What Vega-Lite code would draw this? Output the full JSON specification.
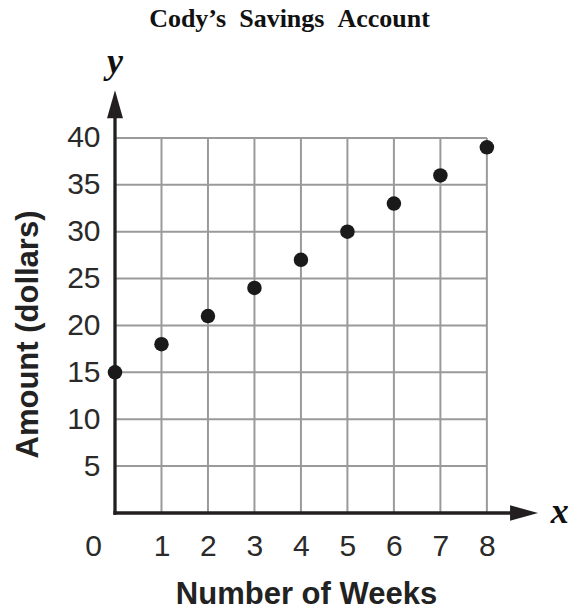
{
  "$schema": "https://vega.github.io/schema/vega-lite/v6.json",
  "width": 423,
  "height": 422,
  "autosize": {"type": "none"},
  "padding": {"left": 115, "top": 91, "right": 33, "bottom": 97},
  "background": "white",
  "config": {"view": {"stroke": null}},
  "title": {
    "text": "Cody’s\u2002Savings\u2002Account",
    "frame": "group",
    "anchor": "middle",
    "dx": -37,
    "offset": 0,
    "dy": 9,
    "baseline": "alphabetic",
    "font": "Liberation Serif",
    "fontSize": 26,
    "fontWeight": "bold",
    "color": "#111"
  },
  "datasets": {
    "hgrid": [
      {"x": 0, "y": 5, "xe": 8}, {"x": 0, "y": 10, "xe": 8}, {"x": 0, "y": 15, "xe": 8},
      {"x": 0, "y": 20, "xe": 8}, {"x": 0, "y": 25, "xe": 8}, {"x": 0, "y": 30, "xe": 8},
      {"x": 0, "y": 35, "xe": 8}, {"x": 0, "y": 40, "xe": 8}
    ],
    "vgrid": [
      {"x": 1, "y": 0, "ye": 40}, {"x": 2, "y": 0, "ye": 40}, {"x": 3, "y": 0, "ye": 40},
      {"x": 4, "y": 0, "ye": 40}, {"x": 5, "y": 0, "ye": 40}, {"x": 6, "y": 0, "ye": 40},
      {"x": 7, "y": 0, "ye": 40}, {"x": 8, "y": 0, "ye": 40}
    ],
    "savings": [
      {"x": 0, "y": 15}, {"x": 1, "y": 18}, {"x": 2, "y": 21}, {"x": 3, "y": 24},
      {"x": 4, "y": 27}, {"x": 5, "y": 30}, {"x": 6, "y": 33}, {"x": 7, "y": 36},
      {"x": 8, "y": 39}
    ]
  },
  "encoding": {
    "x": {
      "field": "x",
      "type": "quantitative",
      "scale": {"domain": [0, 9.1], "nice": false, "zero": false},
      "axis": {
        "values": [0, 1, 2, 3, 4, 5, 6, 7, 8],
        "domain": false,
        "ticks": false,
        "grid": false,
        "labelFont": "Liberation Sans",
        "labelFontSize": 30,
        "labelColor": "#2a2a2a",
        "labelPadding": 18,
        "labelFlush": false,
        "labelOverlap": false,
        "labelOffset": {"condition": {"test": "datum.value === 0", "value": -22}, "value": 0},
        "title": "Number of Weeks",
        "titleFont": "Liberation Sans",
        "titleFontSize": 31,
        "titleFontWeight": "bold",
        "titleColor": "#222",
        "titleX": 191,
        "titleY": 81,
        "titleAlign": "center",
        "titleBaseline": "middle"
      }
    },
    "y": {
      "field": "y",
      "type": "quantitative",
      "scale": {"domain": [0, 45], "nice": false, "zero": false},
      "axis": {
        "values": [5, 10, 15, 20, 25, 30, 35, 40],
        "domain": false,
        "ticks": false,
        "grid": false,
        "labelFont": "Liberation Sans",
        "labelFontSize": 30,
        "labelColor": "#2a2a2a",
        "labelPadding": 15,
        "labelOverlap": false,
        "title": "Amount (dollars)",
        "titleFont": "Liberation Sans",
        "titleFontSize": 31,
        "titleFontWeight": "bold",
        "titleColor": "#222",
        "titleX": -87,
        "titleY": 243,
        "titleAngle": -90,
        "titleAlign": "center",
        "titleBaseline": "middle"
      }
    }
  },
  "layer": [
    {
      "data": {"name": "hgrid"},
      "mark": {"type": "rule", "color": "#9a9a9a", "strokeWidth": 2},
      "encoding": {"x2": {"field": "xe"}}
    },
    {
      "data": {"name": "vgrid"},
      "mark": {"type": "rule", "color": "#9a9a9a", "strokeWidth": 2},
      "encoding": {"y2": {"field": "ye"}}
    },
    {
      "data": {"values": [{"x": 0, "y": 0, "xe": 8.8}]},
      "mark": {"type": "rule", "color": "#231f20", "strokeWidth": 3.3, "strokeCap": "square"},
      "encoding": {"x2": {"field": "xe"}}
    },
    {
      "data": {"values": [{"x": 0, "y": 0, "ye": 43.6}]},
      "mark": {"type": "rule", "color": "#231f20", "strokeWidth": 3.3, "strokeCap": "square"},
      "encoding": {"y2": {"field": "ye"}}
    },
    {
      "data": {"values": [{"x": 0, "y": 43.6}]},
      "mark": {"type": "point", "filled": true, "color": "#231f20", "opacity": 1, "size": 784, "shape": "M0,-1L0.57,1L-0.57,1Z"}
    },
    {
      "data": {"values": [{"x": 8.8, "y": 0}]},
      "mark": {"type": "point", "filled": true, "color": "#231f20", "opacity": 1, "size": 784, "shape": "M1,0L-1,0.55L-1,-0.55Z"}
    },
    {
      "data": {"name": "savings"},
      "mark": {"type": "circle", "color": "#1a1a1a", "opacity": 1, "size": 210}
    },
    {
      "data": {"values": [{"x": 0, "y": 46.9, "letter": "y"}, {"x": 9.57, "y": -1.07, "letter": "x"}]},
      "mark": {"type": "text", "font": "Liberation Serif", "fontStyle": "italic", "fontWeight": "bold", "fontSize": 36, "align": "center", "baseline": "alphabetic", "color": "#111"},
      "encoding": {"text": {"field": "letter"}}
    }
  ]
}
